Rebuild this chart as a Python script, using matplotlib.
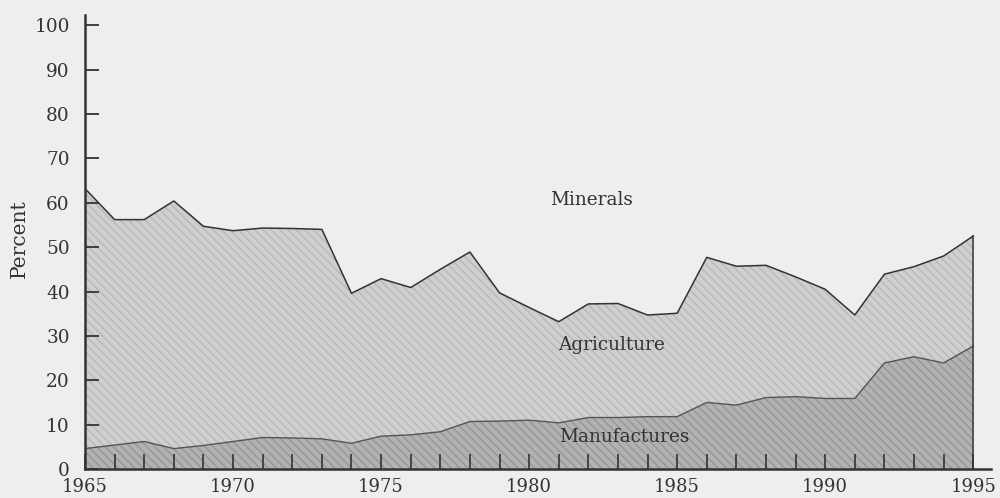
import matplotlib
matplotlib.use("Agg")
import matplotlib.pyplot as plt
import numpy as np

# Share of exports by sector, percent
years = list(range(1965, 1996))
manufactures = [4.6, 5.4, 6.2, 4.6, 5.3, 6.2, 7.1, 7.0, 6.8, 5.8,
                7.4, 7.7, 8.4, 10.7, 10.8, 11.0, 10.4, 11.6, 11.6, 11.8,
                11.8, 15.0, 14.4, 16.1, 16.3, 15.9, 15.9, 23.9, 25.3, 23.9,
                27.7]
# Manufactures + agriculture (minerals make up the rest up to 100)
agri_top = [63.2, 56.2, 56.2, 60.4, 54.7, 53.7, 54.3, 54.2, 54.0, 39.6,
            42.9, 40.9, 45.0, 48.9, 39.7, 36.4, 33.2, 37.2, 37.3, 34.7,
            35.1, 47.7, 45.7, 45.9, 43.3, 40.5, 34.7, 43.9, 45.6, 48.0,
            52.5]
ytick_vals = [0, 10, 20, 30, 40, 50, 60, 70, 80, 90, 100]
xtick_labels = [1965, 1970, 1975, 1980, 1985, 1990, 1995]

bg = "#eeeeee"
ink = "#333333"
plt.rcParams["font.family"] = ["DejaVu Serif"]
plt.rcParams["hatch.linewidth"] = 1.0

fig = plt.figure(figsize=(10, 4.98), dpi=100, facecolor=bg)
ax = fig.add_axes([0.085, 0.0582, 0.906, 0.9116], facecolor=bg)

x = np.array(years)
man = np.array(manufactures)
top = np.array(agri_top)

# Agriculture band
ax.fill_between(x, man, top, facecolor="#cfcfcf", edgecolor="none", linewidth=0)
ax.fill_between(x, man, top, facecolor="none", edgecolor="#b8b8b8",
                hatch="\\\\\\\\", linewidth=0)
# Manufactures band
ax.fill_between(x, 0, man, facecolor="#b2b2b2", edgecolor="none", linewidth=0)
ax.fill_between(x, 0, man, facecolor="none", edgecolor="#969696",
                hatch="\\\\\\\\", linewidth=0)

# Outlines
ax.plot(x, top, color=ink, lw=1.1)
ax.plot(x, man, color="#555555", lw=1.0)
ax.plot([x[-1], x[-1]], [0, top[-1]], color=ink, lw=1.1)

ax.set_xlim(1965, 1995.6)
ax.set_ylim(0, 102.3)

for s in ["top", "right"]:
    ax.spines[s].set_visible(False)
for s in ["left", "bottom"]:
    ax.spines[s].set_color(ink)
    ax.spines[s].set_linewidth(1.8)

ax.set_yticks(ytick_vals)
ax.set_yticklabels([str(v) for v in ytick_vals])
ax.tick_params(axis="y", direction="in", length=10, width=1.3, color=ink,
               labelsize=13.3, labelcolor=ink, pad=11)

ax.set_xticks(xtick_labels)
ax.set_xticklabels([str(v) for v in xtick_labels])
ax.set_xticks(years, minor=True)
ax.tick_params(axis="x", which="both", direction="in", length=11, width=1.2,
               color=ink, labelsize=13, labelcolor=ink, pad=6.5)

ax.set_ylabel("Percent", fontsize=14.5, color=ink)
ax.yaxis.set_label_coords(-0.062, 0.507)

ax.text(1982.1, 60.6, "Minerals", ha="center", va="center", fontsize=13.3, color=ink)
ax.text(1982.8, 27.9, "Agriculture", ha="center", va="center", fontsize=13.3, color=ink)
ax.text(1983.2, 7.2, "Manufactures", ha="center", va="center", fontsize=13.3, color=ink)

fig.savefig("out.png", dpi=100, facecolor=bg)
